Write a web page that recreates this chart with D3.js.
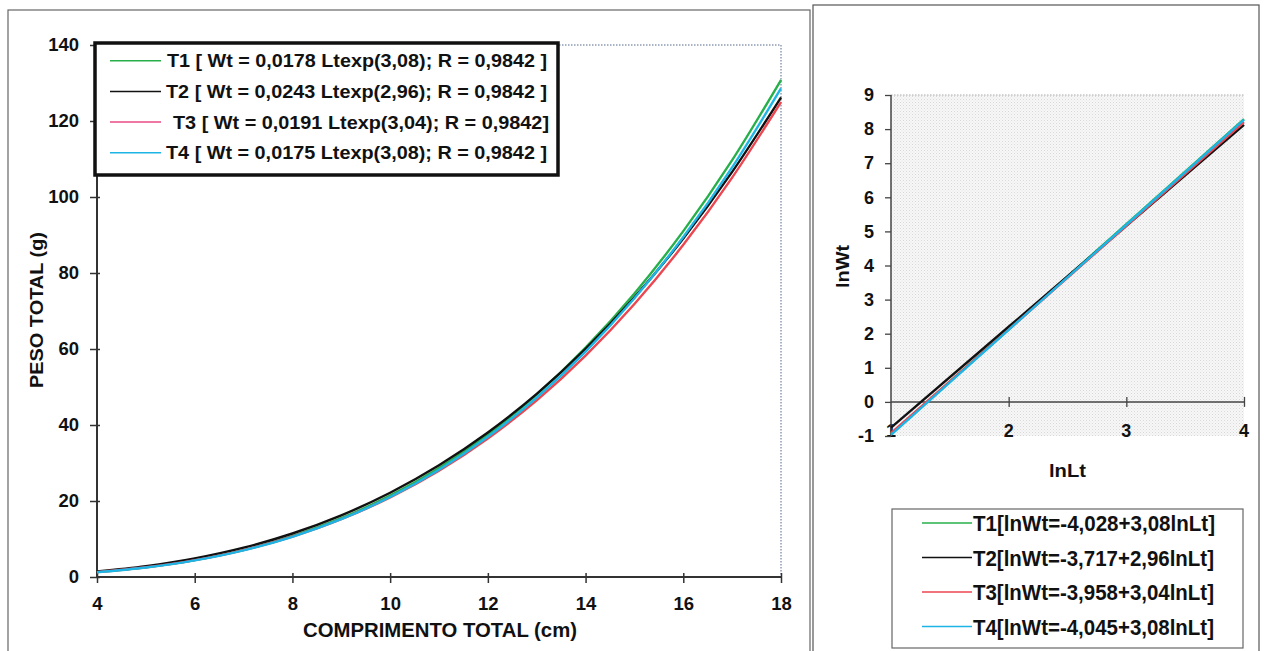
<!DOCTYPE html>
<html>
<head>
<meta charset="utf-8">
<script src="https://cdn.jsdelivr.net/npm/d3@7"></script>
<style>
  html, body { margin: 0; padding: 0; background: #fff; }
  svg { display: block; }
  text { font-family: "Liberation Sans", Arial, sans-serif; font-weight: bold; fill: #111; }
</style>
</head>
<body>
<svg id="chart" width="1264" height="651"></svg>
<script>
// ---- Data: weight–length relationship (left) ----
const lengths = [4, 5, 6, 7, 8, 9, 10, 11, 12, 13, 14, 15, 16, 17, 18];
const weightT1 = [1.27, 2.53, 4.44, 7.13, 10.76, 15.47, 21.40, 28.70, 37.53, 48.01, 60.34, 74.62, 91.02, 109.7, 130.8];
const weightT2 = [1.47, 2.85, 4.89, 7.71, 11.45, 16.22, 22.16, 29.39, 38.02, 48.17, 60.01, 73.61, 89.08, 106.6, 126.2];
const weightT3 = [1.29, 2.55, 4.43, 7.08, 10.63, 15.20, 20.94, 27.98, 36.46, 46.49, 58.26, 71.84, 87.41, 105.1, 125.0];
const weightT4 = [1.25, 2.49, 4.36, 7.01, 10.58, 15.21, 21.04, 28.21, 36.89, 47.20, 59.32, 73.35, 89.47, 107.8, 128.6];
const powerLabels = [
  "T1 [ Wt = 0,0178 Ltexp(3,08); R = 0,9842 ]",
  "T2 [ Wt = 0,0243 Ltexp(2,96); R = 0,9842 ]",
  "T3 [ Wt = 0,0191 Ltexp(3,04); R = 0,9842]",
  "T4 [ Wt = 0,0175 Ltexp(3,08); R = 0,9842 ]"
];
const leftXTicks = [4, 6, 8, 10, 12, 14, 16, 18];
const leftYTicks = [0, 20, 40, 60, 80, 100, 120, 140];

// ---- Data: log-transformed relationship (right) ----
const lnLt = [1, 2, 3, 4];
const lnWtT1 = [-0.948, 2.132, 5.212, 8.292];
const lnWtT2 = [-0.757, 2.203, 5.163, 8.123];
const lnWtT3 = [-0.918, 2.122, 5.162, 8.202];
const lnWtT4 = [-0.965, 2.115, 5.195, 8.275];
const linearLabels = [
  "T1[lnWt=-4,028+3,08lnLt]",
  "T2[lnWt=-3,717+2,96lnLt]",
  "T3[lnWt=-3,958+3,04lnLt]",
  "T4[lnWt=-4,045+3,08lnLt]"
];
const rightXTicks = [1, 2, 3, 4];
const rightYTicks = [-1, 0, 1, 2, 3, 4, 5, 6, 7, 8, 9];

const seriesColors = ["#27b04a", "#111111", "#ec4650", "#1db4e6"];
const legendColors = ["#27b04a", "#111111", "#ea4a86", "#1db4e6"];

const svg = d3.select("#chart");

function styleTickText(sel, size) {
  sel.style("font-size", size + "px").style("font-family", "Liberation Sans, Arial, sans-serif")
    .style("font-weight", "bold").attr("fill", "#111");
}

// ---- Panel frames ----
svg.append("rect").attr("x", 8).attr("y", 10).attr("width", 802).attr("height", 660)
  .attr("fill", "none").attr("stroke", "#666").attr("stroke-width", 1.2);
svg.append("rect").attr("x", 813).attr("y", 5).attr("width", 446).attr("height", 670)
  .attr("fill", "none").attr("stroke", "#555").attr("stroke-width", 1.2);

// ================= Left chart =================
const xL = d3.scaleLinear().domain([4, 18]).range([97, 781]);
const yL = d3.scaleLinear().domain([0, 140]).range([577, 45]);

const gL = svg.append("g");

// dotted plot-area border (top and right)
gL.append("path")
  .attr("d", `M${xL(4)},${yL(140)}H${xL(18)}V${yL(0)}`)
  .attr("fill", "none").attr("stroke", "#a9b3c6").attr("stroke-width", 2)
  .attr("stroke-dasharray", "1.5,1.5");

// y axis
const yAxisL = gL.append("g").attr("transform", `translate(${xL(4)},0)`)
  .call(d3.axisLeft(yL).tickValues(leftYTicks).tickSize(6).tickPadding(12));
yAxisL.selectAll(".tick line").attr("x2", -7).attr("x1", 3);
// x axis
const xAxisL = gL.append("g").attr("transform", `translate(0,${yL(0)})`)
  .call(d3.axisBottom(xL).tickValues(leftXTicks).tickSize(6).tickPadding(14));
xAxisL.selectAll(".tick line").attr("y1", -4).attr("y2", 6);
[yAxisL, xAxisL].forEach(a => {
  a.select(".domain").attr("stroke", "#333").attr("stroke-width", 2);
  a.selectAll(".tick line").attr("stroke", "#333").attr("stroke-width", 1.5);
  styleTickText(a.selectAll("text"), 18.5);
});
xAxisL.select(".domain").attr("d", `M${xL(4)},0H${xL(18)}`);
yAxisL.select(".domain").attr("d", `M0,${yL(0)}V${yL(140)}`);

gL.append("text").attr("x", 303).attr("y", 637)
  .attr("textLength", 274).attr("lengthAdjust", "spacingAndGlyphs")
  .style("font-size", "19.5px").text("COMPRIMENTO TOTAL (cm)");
gL.append("text").attr("transform", "translate(43,388) rotate(-90)")
  .attr("textLength", 156).attr("lengthAdjust", "spacingAndGlyphs")
  .style("font-size", "18px").text("PESO TOTAL (g)");

const lineL = d3.line().x((d, i) => xL(lengths[i])).y(d => yL(d)).curve(d3.curveMonotoneX);
[weightT1, weightT2, weightT3, weightT4].forEach((s, k) => {
  gL.append("path").datum(s).attr("d", lineL)
    .attr("fill", "none").attr("stroke", seriesColors[k]).attr("stroke-width", 2.4);
});

// legend
const legL = gL.append("g");
legL.append("rect").attr("x", 95).attr("y", 43).attr("width", 463).attr("height", 132)
  .attr("fill", "#fff").attr("stroke", "#111").attr("stroke-width", 3.5);
const legLStart = [167, 166, 173, 166];
const legLEnd = [547, 547, 549, 547];
powerLabels.forEach((t, i) => {
  const cy = 60.7 + i * 30.7;
  legL.append("line").attr("x1", 110).attr("x2", 161).attr("y1", cy).attr("y2", cy)
    .attr("stroke", legendColors[i]).attr("stroke-width", 1.5);
  legL.append("text").attr("x", legLStart[i]).attr("y", cy + 6.5)
    .attr("textLength", legLEnd[i] - legLStart[i]).attr("lengthAdjust", "spacingAndGlyphs")
    .style("font-size", "18px").text(t);
});

// ================= Right chart =================
const xR = d3.scaleLinear().domain([1, 4]).range([891, 1244]);
const yR = d3.scaleLinear().domain([-1, 9]).range([436, 95]);
const gR = svg.append("g");

// stippled plot background
const defs = svg.append("defs");
const pat = defs.append("pattern").attr("id", "stipple").attr("patternUnits", "userSpaceOnUse")
  .attr("width", 3).attr("height", 3);
pat.append("rect").attr("width", 3).attr("height", 3).attr("fill", "#f7f7f7");
pat.append("rect").attr("width", 1).attr("height", 1).attr("fill", "#d8d8d8");
pat.append("rect").attr("x", 1.5).attr("y", 1.5).attr("width", 1).attr("height", 1).attr("fill", "#e6e6e6");

gR.append("rect").attr("x", xR(1)).attr("y", yR(9)).attr("width", xR(4) - xR(1)).attr("height", yR(-1) - yR(9))
  .attr("fill", "url(#stipple)");
gR.append("path").attr("d", `M${xR(1)},${yR(9)}H${xR(4)}`)
  .attr("stroke", "#a8a8a8").attr("stroke-width", 1.2).attr("stroke-dasharray", "1.5,1.5");

// x-axis tick labels sit below the plot area
gR.selectAll(".xlab").data(rightXTicks).enter().append("text")
  .attr("x", d => xR(d)).attr("y", 437).attr("text-anchor", "middle")
  .style("font-size", "18px").text(d => d);

const yAxisR = gR.append("g").attr("transform", `translate(${xR(1)},0)`)
  .call(d3.axisLeft(yR).tickValues(rightYTicks).tickFormat(d => String(d)).tickSize(6).tickPadding(11));
yAxisR.select(".domain").attr("d", `M0,${yR(-1)}V${yR(9)}`).attr("stroke", "#444").attr("stroke-width", 1.5);
yAxisR.selectAll(".tick line").attr("stroke", "#444").attr("stroke-width", 1.3);
styleTickText(yAxisR.selectAll("text"), 18);

const xAxisR = gR.append("g").attr("transform", `translate(0,${yR(0)})`)
  .call(d3.axisBottom(xR).tickValues([2, 3, 4]).tickSize(5).tickFormat(""));
xAxisR.select(".domain").attr("d", `M${xR(1)},0H${xR(4)}`).attr("stroke", "#444").attr("stroke-width", 1.5);
xAxisR.selectAll(".tick line").attr("y1", -5).attr("y2", 5).attr("stroke", "#444").attr("stroke-width", 1.3);

gR.append("text").attr("x", 1049).attr("y", 477)
  .attr("textLength", 37).attr("lengthAdjust", "spacingAndGlyphs")
  .style("font-size", "18px").text("lnLt");
gR.append("text").attr("transform", "translate(849,288) rotate(-90)")
  .attr("textLength", 43).attr("lengthAdjust", "spacingAndGlyphs")
  .style("font-size", "18px").text("lnWt");

const lineR = d3.line().x((d, i) => xR(lnLt[i])).y(d => yR(d));
[lnWtT1, lnWtT2, lnWtT3, lnWtT4].forEach((s, k) => {
  gR.append("path").datum(s).attr("d", lineR)
    .attr("fill", "none").attr("stroke", seriesColors[k]).attr("stroke-width", 2.4);
});

// legend
const legR = gR.append("g");
legR.append("rect").attr("x", 892).attr("y", 509).attr("width", 351).attr("height", 139)
  .attr("fill", "#fff").attr("stroke", "#666").attr("stroke-width", 1.2);
const legREnd = [1215, 1214, 1214, 1214];
linearLabels.forEach((t, i) => {
  const cy = 523 + i * 34.5;
  legR.append("line").attr("x1", 922).attr("x2", 972).attr("y1", cy).attr("y2", cy)
    .attr("stroke", seriesColors[i]).attr("stroke-width", 1.5);
  legR.append("text").attr("x", 973).attr("y", cy + 8)
    .attr("textLength", legREnd[i] - 973).attr("lengthAdjust", "spacingAndGlyphs")
    .style("font-size", "22px").text(t);
});
</script>
</body>
</html>
